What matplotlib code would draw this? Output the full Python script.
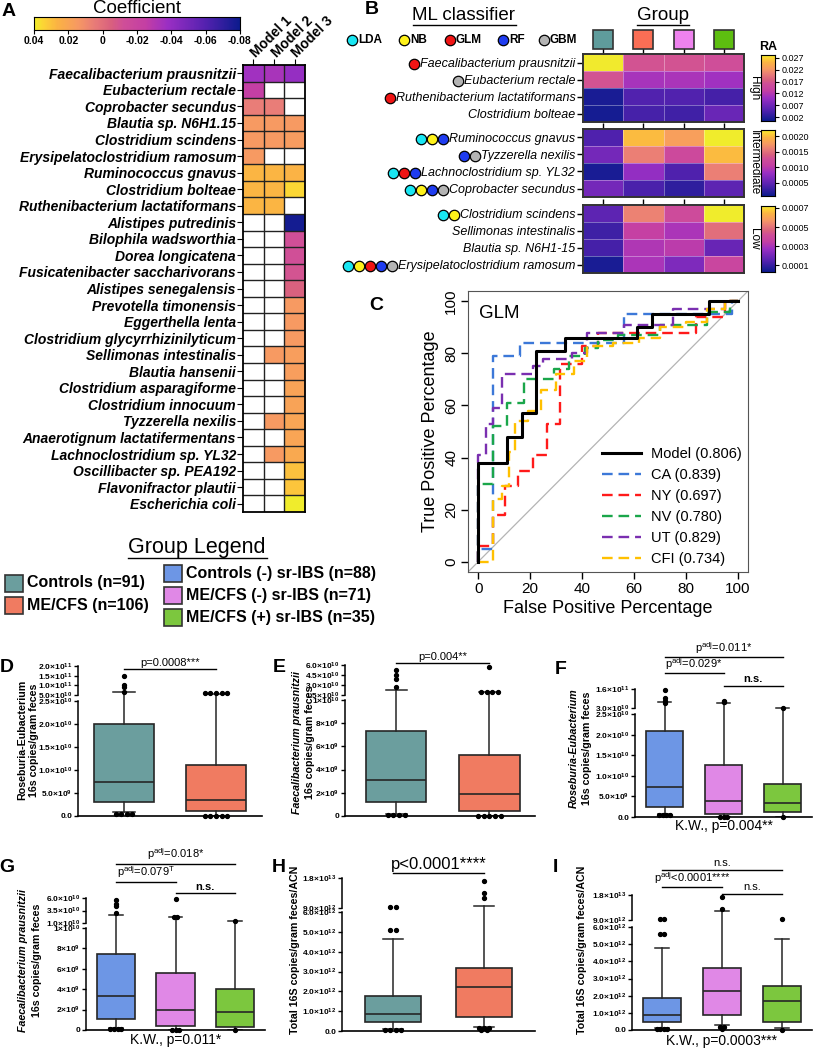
import numpy as np
import matplotlib
matplotlib.use('Agg')
import matplotlib.pyplot as plt
from matplotlib.colors import LinearSegmentedColormap, Normalize
from matplotlib.patches import Rectangle
from matplotlib.transforms import blended_transform_factory

plt.rcParams['font.family'] = ['Liberation Sans', 'DejaVu Sans']
plt.rcParams['mathtext.default'] = 'regular'

W, H = 816, 1050
nan = np.nan

# ---------------- panel A: regression coefficients
a_species = ['Faecalibacterium prausnitzii', 'Eubacterium rectale', 'Coprobacter secundus',
             'Blautia sp. N6H1.15', 'Clostridium scindens', 'Erysipelatoclostridium ramosum',
             'Ruminococcus gnavus', 'Clostridium bolteae', 'Ruthenibacterium lactatiformans',
             'Alistipes putredinis', 'Bilophila wadsworthia', 'Dorea longicatena',
             'Fusicatenibacter saccharivorans', 'Alistipes senegalensis', 'Prevotella timonensis',
             'Eggerthella lenta', 'Clostridium glycyrrhizinilyticum', 'Sellimonas intestinalis',
             'Blautia hansenii', 'Clostridium asparagiforme', 'Clostridium innocuum',
             'Tyzzerella nexilis', 'Anaerotignum lactatifermentans', 'Lachnoclostridium sp. YL32',
             'Oscillibacter sp. PEA192', 'Flavonifractor plautii', 'Escherichia coli']
a_models = ['Model 1', 'Model 2', 'Model 3']
a_model1 = [-0.036, -0.025, 0.005, 0.015, 0.015, 0.015, 0.027, 0.027, 0.027,
            nan, nan, nan, nan, nan, nan, nan, nan, nan, nan, nan, nan, nan, nan, nan, nan, nan, nan]
a_model2 = [-0.034, nan, 0.005, 0.015, 0.015, nan, 0.027, 0.027, 0.027,
            nan, nan, nan, nan, nan, nan, nan, nan, 0.015, nan, nan, nan, 0.015, nan, 0.015, nan, nan, nan]
a_model3 = [-0.040, nan, nan, 0.015, 0.016, nan, 0.026, 0.035, nan,
            -0.078, -0.012, -0.012, -0.010, -0.005, 0.015, 0.015, 0.015, 0.017,
            0.017, 0.019, 0.019, 0.020, 0.020, 0.022, 0.030, 0.031, 0.040]
a_cbar_ticks = [0.04, 0.02, 0, -0.02, -0.04, -0.06, -0.08]
a_cbar_labels = ['0.04', '0.02', '0', '-0.02', '-0.04', '-0.06', '-0.08']

# ---------------- panel B: relative abundance by group
b_high_species = ['Faecalibacterium prausnitzii', 'Eubacterium rectale',
                  'Ruthenibacterium lactatiformans', 'Clostridium bolteae']
b_high_vals = [[0.0280, 0.0165, 0.0165, 0.0160],
               [0.0165, 0.0110, 0.0112, 0.0105],
               [0.0012, 0.0048, 0.0048, 0.0040],
               [0.0010, 0.0042, 0.0037, 0.0065]]
b_mid_species = ['Ruminococcus gnavus', 'Tyzzerella nexilis', 'Lachnoclostridium sp. YL32',
                 'Coprobacter secundus']
b_mid_vals = [[0.00040, 0.00200, 0.00180, 0.00220],
              [0.00060, 0.00160, 0.00120, 0.00200],
              [0.00013, 0.00077, 0.00040, 0.00160],
              [0.00060, 0.00037, 0.00024, 0.00047]]
b_low_species = ['Clostridium scindens', 'Sellimonas intestinalis', 'Blautia sp. N6H1-15',
                 'Erysipelatoclostridium ramosum']
b_low_vals = [[0.00016, 0.00053, 0.00040, 0.00072],
              [0.00011, 0.00035, 0.00030, 0.00049],
              [0.00012, 0.00031, 0.00033, 0.00018],
              [0.00005, 0.00030, 0.00022, 0.00038]]
b_high_clf = [['GLM'], ['GBM'], ['GLM'], []]
b_mid_clf = [['LDA', 'NB', 'RF'], ['RF', 'GBM'], ['LDA', 'GLM', 'RF'], ['LDA', 'NB', 'RF', 'GBM']]
b_low_clf = [['LDA', 'NB'], [], [], ['LDA', 'NB', 'GLM', 'RF', 'GBM']]
b_high_ticks = [0.027, 0.022, 0.017, 0.012, 0.007, 0.002]
b_mid_ticks = [0.0020, 0.0015, 0.0010, 0.0005]
b_low_ticks = [0.0007, 0.0005, 0.0003, 0.0001]
classifiers = ['LDA', 'NB', 'GLM', 'RF', 'GBM']
clf_colors = {'LDA': '#19e6f2', 'NB': '#fff21a', 'GLM': '#f01414', 'RF': '#1f3cf0', 'GBM': '#b4b4b4'}

# ---------------- panel C: ROC curves (GLM)
roc_names = ['Model', 'CA', 'NY', 'NV', 'UT', 'CFI']
roc_auc = [0.806, 0.839, 0.697, 0.780, 0.829, 0.734]
model_fpr = [0, 11, 16.7, 22.4, 33.6, 61, 67, 89, 100]
model_tpr = [0, 38, 48, 57, 81, 86, 90, 95, 100]
ca_fpr = [0, 5.5, 16, 56, 98, 100]
ca_tpr = [0, 5, 79, 84, 95, 100]
ny_fpr = [0, 5.5, 10.3, 15.4, 21, 26.5, 31.4, 40, 46, 84, 95, 100]
ny_tpr = [0, 6, 18, 29, 35, 41, 53, 76, 83, 88, 94, 100]
nv_fpr = [0, 5.5, 11, 17.5, 29, 35, 41, 46, 54, 70, 88, 97, 100]
nv_tpr = [0, 30, 52, 61, 70, 74, 79, 82, 85, 87, 91, 96, 100]
ut_fpr = [0, 3, 5.5, 9, 21, 25, 36, 42, 56, 75, 95, 100]
ut_tpr = [0, 41, 53, 59, 72, 75, 78, 80, 88, 91, 97, 100]
cfi_fpr = [0, 5.8, 9, 12, 14, 19, 24, 30, 37, 42, 52, 62, 70, 80, 88, 95, 100]
cfi_tpr = [0, 0, 24, 29, 42, 54, 58, 66, 72, 77, 83, 84, 86, 90, 92, 97, 100]
roc_colors = ['black', '#3c78d8', '#ff1a1a', '#1aa64a', '#7a2fb0', '#ffc000']

# ---------------- group colours
grp2_names = ['Controls (n=91)', 'ME/CFS (n=106)']
grp3_names = ['Controls (-) sr-IBS (n=88)', 'ME/CFS (-) sr-IBS (n=71)', 'ME/CFS (+) sr-IBS (n=35)']
grp2_colors = ['#6b9e9e', '#f07b61']
grp3_colors = ['#6d96e5', '#e088e6', '#7cc73e']
b_group_colors = ['#5f9c9c', '#fa6e55', '#ee82ee', '#5dbe10']

# ---------------- panels D-I: box summaries
d_q1, d_med, d_q3 = [3.0e9, 1.0e9], [7.5e9, 3.5e9], [2.0e10, 1.1e10]
d_lo, d_hi = [0.8e9, 0.0], [6.5e10, 5.5e10]
d_fl = [[5e8, 5e8, 5e8, 5e8, 6.8e10, 9.0e10, 1.0e11, 1.5e11], [0, 0, 0, 0, 0, 6e10, 6e10, 6e10, 6e10, 6e10]]
d_ticks = [0, 5e9, 1e10, 1.5e10, 2e10, 2.5e10, 5e10, 1e11, 1.5e11, 2e11]
d_labels = ['0.0', '5.0×10$^{9}$', '1.0×10$^{10}$', '1.5×10$^{10}$', '2.0×10$^{10}$', '2.5×10$^{10}$',
            '5.0×10$^{10}$', '1.0×10$^{11}$', '1.5×10$^{11}$', '2.0×10$^{11}$']

e_q1, e_med, e_q3 = [1.2e9, 0.4e9], [3.1e9, 1.9e9], [7.3e9, 5.3e9]
e_lo, e_hi = [0.2e9, 0.0], [2.3e10, 1.9e10]
e_fl = [[1e8, 1e8, 1e8, 1e8, 2.7e10, 3.9e10, 4.5e10, 5.25e10], [0, 0, 0, 0, 0, 1.95e10, 1.95e10, 1.95e10, 1.95e10, 5.7e10]]
e_ticks = [0, 2e9, 4e9, 6e9, 8e9, 1e10, 1.5e10, 3e10, 4.5e10, 6e10]
e_labels = ['0', '2×10$^{9}$', '4×10$^{9}$', '6×10$^{9}$', '8×10$^{9}$', '1×10$^{10}$',
            '1.5×10$^{10}$', '3.0×10$^{10}$', '4.5×10$^{10}$', '6.0×10$^{10}$']

f_q1, f_med, f_q3 = [2.5e9, 0.7e9, 1.2e9], [7.3e9, 3.9e9, 3.4e9], [2.08e10, 1.26e10, 7.9e9]
f_lo, f_hi = [0.8e9, 0.0, 0.0], [7.1e10, 6.4e10, 3.1e10]
f_fl = [[5e8, 5e8, 5e8, 5e8, 6.5e10, 8.0e10, 1.0e11, 1.5e11], [0, 0, 0, 7.0e10, 7.3e10, 7.6e10], [0, 3.1e10]]
f_ticks = [0, 5e9, 1e10, 1.5e10, 2e10, 2.5e10, 3e10, 1.6e11]
f_labels = ['0.0', '5.0×10$^{9}$', '1.0×10$^{10}$', '1.5×10$^{10}$', '2.0×10$^{10}$', '2.5×10$^{10}$',
            '3.0×10$^{10}$', '1.6×10$^{11}$']

g_q1, g_med, g_q3 = [1.1e9, 0.4e9, 0.3e9], [3.3e9, 2.0e9, 1.8e9], [7.5e9, 5.6e9, 4.0e9]
g_lo, g_hi = [0.2e9, 0.0, 0.0], [2.6e10, 2.2e10, 1.4e10]
g_fl = [[1e8, 1e8, 1e8, 1e8, 3.0e10, 4.4e10, 4.8e10, 5.6e10], [0, 0, 0, 2.2e10, 2.2e10, 5.8e10], [0, 1.4e10]]
g_ticks = [0, 2e9, 4e9, 6e9, 8e9, 1e10, 1.0001e10, 3.5e10, 6e10]
g_labels = ['0', '2×10$^{9}$', '4×10$^{9}$', '6×10$^{9}$', '8×10$^{9}$', '1×10$^{10}$',
            '1.0×10$^{10}$', '3.5×10$^{10}$', '6.0×10$^{10}$']

h_q1, h_med, h_q3 = [0.45e12, 0.7e12], [0.88e12, 2.2e12], [1.75e12, 3.2e12]
h_lo, h_hi = [0.1e12, 0.2e12], [4.65e12, 9.7e12]
h_fl = [[5e10, 5e10, 5e10, 5e10, 5.1e12, 5.1e12, 9.2e12, 9.2e12],
        [5e10, 5e10, 1.5e11, 1.5e11, 1.5e11, 1.2e13, 1.35e13, 1.7e13]]
h_ticks = [0, 1e12, 2e12, 3e12, 4e12, 5e12, 6e12, 9e12, 1.8e13]
h_labels = ['0.0', '1.0×10$^{12}$', '2.0×10$^{12}$', '3.0×10$^{12}$', '4.0×10$^{12}$', '5.0×10$^{12}$',
            '6.0×10$^{12}$', '9.0×10$^{12}$', '1.8×10$^{13}$']

i_q1, i_med, i_q3 = [0.45e12, 0.85e12, 0.45e12], [0.9e12, 2.3e12, 1.7e12], [1.85e12, 3.6e12, 2.55e12]
i_lo, i_hi = [0.1e12, 0.29e12, 0.12e12], [4.75e12, 1.22e13, 5.3e12]
i_fl = [[5e10, 5e10, 5e10, 5e10, 5.6e12, 5.6e12, 9.5e12, 9.5e12],
        [5e10, 1.5e11, 1.5e11, 1.3e13, 1.73e13], [0, 9.4e12]]
i_ticks = h_ticks
i_labels = h_labels

# ================= drawing
fig = plt.figure(figsize=(W / 100, H / 100), dpi=100)


def px_axes(x0, y0, x1, y1, **kw):
    return fig.add_axes([x0 / W, 1 - y1 / H, (x1 - x0) / W, (y1 - y0) / H], **kw)


def ftext(x, y, s, **kw):
    kw.setdefault('ha', 'center')
    kw.setdefault('va', 'center')
    return fig.text(x / W, 1 - y / H, s, **kw)


cmap = LinearSegmentedColormap.from_list('coef', [
    (0.0, '#0d1b8e'), (0.167, '#5522b0'), (0.35, '#9b2fc4'), (0.458, '#c43fa4'),
    (0.567, '#d04f98'), (0.625, '#d9607f'), (0.708, '#e97c78'), (0.792, '#f79a62'),
    (0.892, '#fbb443'), (0.958, '#fdd535'), (1.0, '#f0ec2c')])

# ---- A
ftext(9, 12, 'A', fontsize=14, fontweight='bold')
normA = Normalize(-0.08, 0.04)
cax = px_axes(34, 17, 240, 30)
grad = np.linspace(0.04, -0.08, 300)[None, :]
cax.imshow(grad, extent=[0.04, -0.08, 0, 1], aspect='auto', cmap=cmap, norm=normA)
cax.set_xlim(0.04, -0.08)
cax.set_yticks([])
cax.set_xticks(a_cbar_ticks, a_cbar_labels, fontsize=7.5, fontweight='bold')
cax.tick_params(axis='x', length=3, pad=1)
cax.set_title('Coefficient', fontsize=13.5, pad=1)

axA = px_axes(243, 65, 305, 512)
vals = np.ma.masked_invalid(np.column_stack([a_model1, a_model2, a_model3]))
axA.pcolormesh(np.arange(4), np.arange(len(a_species) + 1), vals, cmap=cmap, norm=normA)
axA.set_xlim(0, 3)
axA.set_ylim(len(a_species), 0)
for k in range(1, 3):
    axA.axvline(k, color='#222222', lw=1)
for k in range(1, len(a_species)):
    axA.axhline(k, color='#222222', lw=1)
for sp in axA.spines.values():
    sp.set_linewidth(1.3)
axA.set_yticks(np.arange(len(a_species)) + 0.5, a_species, fontsize=10, fontweight='bold', fontstyle='italic')
axA.xaxis.tick_top()
axA.set_xticks(np.arange(3) + 0.5, a_models, fontsize=10, fontweight='bold', rotation=45,
               ha='left', va='center', rotation_mode='anchor')
axA.tick_params(axis='y', length=4, pad=1)
axA.tick_params(axis='x', length=4, pad=3)

# ---- B
ftext(372, 10, 'B', fontsize=14, fontweight='bold')
b_blocks = [(b_high_species, b_high_vals, (0.0004, 0.0282), b_high_ticks, '%.3f', 54, 122, 'High', b_high_clf),
            (b_mid_species, b_mid_vals, (0.00007, 0.0022), b_mid_ticks, '%.4f', 129, 197, 'Intermediate', b_mid_clf),
            (b_low_species, b_low_vals, (0.00003, 0.00072), b_low_ticks, '%.4f', 205, 273, 'Low', b_low_clf)]
b_axes = []
for names, v, (lo, hi), ticks, fmt, y0, y1, tag, clf in b_blocks:
    ax = px_axes(583, y0, 744, y1)
    nb = Normalize(lo, hi)
    ax.pcolormesh(np.arange(5), np.arange(5), np.array(v), cmap=cmap, norm=nb,
                  edgecolors=(1, 1, 1, 0.35), linewidth=0.6)
    ax.set_xlim(0, 4)
    ax.set_ylim(4, 0)
    ax.set_yticks(np.arange(4) + 0.5, names, fontsize=9, fontstyle='italic')
    ax.xaxis.tick_top()
    ax.set_xticks(np.arange(4) + 0.5, [])
    ax.tick_params(axis='both', length=4.5, width=1, pad=1)
    for sp in ax.spines.values():
        sp.set_linewidth(1.4)
        sp.set_color('#333333')
    ftext(754, (y0 + y1) / 2, tag, fontsize=8.5, rotation=270)
    cb = px_axes(761, y0 + 1, 775, y1 - 1)
    cb.imshow(np.linspace(hi, lo, 200)[:, None], extent=[0, 1, lo, hi], aspect='auto', cmap=cmap, norm=nb)
    cb.set_ylim(lo, hi)
    cb.set_xticks([])
    cb.yaxis.tick_right()
    cb.set_yticks(ticks, [fmt % t for t in ticks], fontsize=6.5)
    cb.tick_params(axis='y', length=3, pad=1.5)
    b_axes.append((ax, clf))
ftext(768, 47, 'RA', fontsize=9, fontweight='bold')

# ---- overlay for annotations (pixel coordinates)
ov = fig.add_axes([0, 0, 1, 1], zorder=10)
ov.set_xlim(0, W)
ov.set_ylim(H, 0)
ov.axis('off')

ftext(464, 16, 'ML classifier', fontsize=13.5)
ov.plot([413, 516], [25, 25], color='k', lw=1)
ftext(663, 16, 'Group', fontsize=13.5)
ov.plot([637, 689], [25, 25], color='k', lw=1)
for cx, name in zip([352, 404, 450, 503, 544], classifiers):
    ov.plot(cx, 40, 'o', ms=7.5, mfc=clf_colors[name], mec='k', mew=0.9)
    ov.text(cx + 6, 40, name, fontsize=8.5, fontweight='bold', ha='left', va='center')
col_w = (744 - 583) / 4
for k, c in enumerate(b_group_colors):
    xc = 583 + col_w * (k + 0.5)
    ov.add_patch(Rectangle((xc - 10, 30), 20, 19, facecolor=c, edgecolor='#333333', lw=1.2))

# ---- C
ftext(376, 305, 'C', fontsize=14, fontweight='bold')
axC = px_axes(468, 291, 748, 572)
axC.plot([0, 1], [0, 1], transform=axC.transAxes, color='#b4b4b4', lw=0.9)
roc_fprs = [model_fpr, ca_fpr, ny_fpr, nv_fpr, ut_fpr, cfi_fpr]
roc_tprs = [model_tpr, ca_tpr, ny_tpr, nv_tpr, ut_tpr, cfi_tpr]
for name, auc, f, t, c in zip(roc_names, roc_auc, roc_fprs, roc_tprs, roc_colors):
    if name == 'Model':
        axC.plot(f, t, drawstyle='steps-pre', color=c, lw=2.2, label=f'{name} ({auc:.3f})', zorder=3)
    else:
        axC.plot(f, t, drawstyle='steps-pre', color=c, lw=1.7, dashes=(4.5, 2.5), label=f'{name} ({auc:.3f})')
axC.set_xlim(-4, 104)
axC.set_ylim(-4, 104)
axC.set_xticks(range(0, 101, 20))
axC.set_yticks(range(0, 101, 20))
axC.tick_params(labelsize=11, length=5, width=1, pad=2)
for lbl in axC.get_yticklabels():
    lbl.set_rotation(90)
    lbl.set_va('center')
for sp in axC.spines.values():
    sp.set_color('#555555')
axC.set_xlabel('False Positive Percentage', fontsize=13, labelpad=3)
axC.set_ylabel('True Positive Percentage', fontsize=13, labelpad=4)
axC.text(0.04, 0.95, 'GLM', transform=axC.transAxes, fontsize=13.5, va='top')
axC.legend(loc='lower right', frameon=False, fontsize=10.5, handlelength=2.7, labelspacing=0.48,
           borderaxespad=0.0, handletextpad=0.7)

# ---- group legend
ftext(197, 548, 'Group Legend', fontsize=15.5)
ov.plot([128, 267], [558, 558], color='k', lw=1)
for k, (name, c) in enumerate(zip(grp2_names, grp2_colors)):
    y = 583 + 22.5 * k
    ov.add_patch(Rectangle((5, y - 8.5), 18, 17, facecolor=c, edgecolor='#333333', lw=1.2))
    ov.text(27, y, name, fontsize=11.5, fontweight='bold', ha='left', va='center')
for k, (name, c) in enumerate(zip(grp3_names, grp3_colors)):
    y = 573.5 + 22 * k
    ov.add_patch(Rectangle((164, y - 8.5), 18, 17, facecolor=c, edgecolor='#333333', lw=1.2))
    ov.text(186, y, name, fontsize=11.5, fontweight='bold', ha='left', va='center')


# ---- box panels
def spread(vals, x, step):
    xs = np.full(len(vals), float(x))
    groups = {}
    for i, v in enumerate(vals):
        groups.setdefault(v, []).append(i)
    for idx in groups.values():
        n = len(idx)
        xs[idx] = x + (np.arange(n) - (n - 1) / 2) * step
    return xs


def box_panel(px, brk, ticks, labels, xlim, width, q1, med, q3, lo, hi, fliers, colors):
    x0, x1, yz, yb1, yb2, yt = px
    b1, b2, top = brk
    ax = px_axes(x0, yt, x1, yz)
    s1 = (yz - yb1) / b1
    s2 = (yb2 - yt) / (top - b2)
    xp = [-top, 0, b1, b2, top, 2 * top]
    fp = [-top * s1, 0, yz - yb1, yz - yb2, yz - yt, yz - yt + top * s2]
    ax.set_yscale('function', functions=(lambda v: np.interp(v, xp, fp), lambda v: np.interp(v, fp, xp)))
    ax.set_ylim(0, top)
    ax.set_xlim(*xlim)
    pos = np.arange(1, len(q1) + 1)
    stats = [dict(q1=a, med=m, q3=b, whislo=l, whishi=h, fliers=[])
             for a, m, b, l, h in zip(q1, med, q3, lo, hi)]
    bp = ax.bxp(stats, positions=pos, widths=width, patch_artist=True, showfliers=False,
                capwidths=width * 0.35,
                boxprops=dict(edgecolor='#262626', linewidth=1.2),
                medianprops=dict(color='#262626', linewidth=1.2),
                whiskerprops=dict(color='#262626', linewidth=1.1),
                capprops=dict(color='#262626', linewidth=1.1))
    for patch, c in zip(bp['boxes'], colors):
        patch.set_facecolor(c)
    for p, fl in zip(pos, fliers):
        ax.plot(spread(fl, p, 0.06), fl, 'o', color='k', ms=2.8, clip_on=False, zorder=5)
    for s in ['top', 'right', 'left']:
        ax.spines[s].set_visible(False)
    ax.spines['bottom'].set_linewidth(1.2)
    tr = blended_transform_factory(ax.transAxes, ax.transData)
    ax.plot([0, 0], [0, b1], transform=tr, color='k', lw=1.1, clip_on=False)
    ax.plot([0, 0], [b2, top], transform=tr, color='k', lw=1.1, clip_on=False)
    ax.set_xticks([])
    ax.set_yticks(ticks, labels, fontsize=6, fontweight='bold')
    ax.tick_params(axis='y', length=3, width=1, pad=1)
    return ax


def sig(ax, xa, xb, y, label, size=8, weight='normal'):
    tr = blended_transform_factory(ax.transData, ov.transData)
    ax.plot([xa, xb], [y, y], transform=tr, color='k', lw=1, clip_on=False)
    ax.text((xa + xb) / 2, y - 1.5, label, transform=tr, ha='center', va='bottom', fontsize=size,
            fontweight=weight, clip_on=False)


def kw_text(ax, y, label):
    tr = blended_transform_factory(ax.transAxes, ov.transData)
    ax.text(0.5, y, label, transform=tr, ha='center', va='center', fontsize=10, clip_on=False)


axD = box_panel((78, 262, 816, 701, 695, 666), (2.5e10, 5e10, 2e11), d_ticks, d_labels, (0.5, 2.5), 0.66,
                d_q1, d_med, d_q3, d_lo, d_hi, d_fl, grp2_colors)
axE = box_panel((345, 535, 816, 700, 695, 665), (1e10, 1.5e10, 6e10), e_ticks, e_labels, (0.45, 2.49), 0.65,
                e_q1, e_med, e_q3, e_lo, e_hi, e_fl, grp2_colors)
axF = box_panel((635, 812, 817, 714, 708, 689), (2.5e10, 3e10, 1.6e11), f_ticks, f_labels, (0.5, 3.5), 0.64,
                f_q1, f_med, f_q3, f_lo, f_hi, f_fl, grp3_colors)
axG = box_panel((86, 265, 1030, 928, 923, 898), (1e10, 1.0001e10, 6e10), g_ticks, g_labels, (0.5, 3.5), 0.64,
                g_q1, g_med, g_q3, g_lo, g_hi, g_fl, grp3_colors)
axH = box_panel((342, 535, 1031, 912, 908, 878), (6e12, 9e12, 1.8e13), h_ticks, h_labels, (0.44, 2.56), 0.62,
                h_q1, h_med, h_q3, h_lo, h_hi, h_fl, grp2_colors)
axI = box_panel((632, 812, 1030, 927, 920, 895), (6e12, 9e12, 1.8e13), i_ticks, i_labels, (0.5, 3.5), 0.64,
                i_q1, i_med, i_q3, i_lo, i_hi, i_fl, grp3_colors)

for lab, x, y in [('D', 7, 668), ('E', 279, 668), ('F', 561, 670), ('G', 7, 867), ('H', 279, 867), ('I', 555, 867)]:
    ftext(x, y, lab, fontsize=14, fontweight='bold')

ftext(22, 740, 'Roseburia-Eubacterium', fontsize=7.7, fontweight='bold', rotation=90)
ftext(34, 740, '16s copies/gram feces', fontsize=7.7, fontweight='bold', rotation=90)
ftext(297, 742, 'Faecalibacterium prausnitzii', fontsize=7.7, fontweight='bold', fontstyle='italic', rotation=90)
ftext(310, 742, '16s copies/gram feces', fontsize=7.7, fontweight='bold', rotation=90)
ftext(574, 748, 'Roseburia-Eubacterium', fontsize=7.7, fontweight='bold', fontstyle='italic', rotation=90)
ftext(587, 748, '16s copies/gram feces', fontsize=7.7, fontweight='bold', rotation=90)
ftext(23, 960, 'Faecalibacterium prausnitzii', fontsize=7.7, fontweight='bold', fontstyle='italic', rotation=90)
ftext(37, 960, '16s copies/gram feces', fontsize=7.7, fontweight='bold', rotation=90)
ftext(295, 950, 'Total 16S copies/gram feces/ACN', fontsize=7.7, fontweight='bold', rotation=90)
ftext(582, 950, 'Total 16S copies/gram feces/ACN', fontsize=7.7, fontweight='bold', rotation=90)

sig(axD, 1, 2, 669, 'p=0.0008***', size=8)
sig(axE, 1, 2, 663, 'p=0.004**', size=8)
sig(axF, 1, 3, 657, 'p$^{adj}$=0.011*')
sig(axF, 1, 2, 673, 'p$^{adj}$=0.029*')
sig(axF, 2, 3, 686, 'n.s.', weight='bold')
kw_text(axF, 826, 'K.W., p=0.004**')
sig(axG, 1, 3, 864, 'p$^{adj}$=0.018*')
sig(axG, 1, 2, 882, 'p$^{adj}$=0.079$^{T}$')
sig(axG, 2, 3, 893, 'n.s.', weight='bold')
kw_text(axG, 1040, 'K.W., p=0.011*')
sig(axH, 1, 2, 873, 'p<0.0001****', size=12)
sig(axI, 1, 3, 870, 'n.s.')
sig(axI, 1, 2, 887, 'p$^{adj}$<0.0001****')
sig(axI, 2, 3, 894, 'n.s.')
kw_text(axI, 1041, 'K.W., p=0.0003***')

# ---- classifier circles next to B labels
fig.canvas.draw()
renderer = fig.canvas.get_renderer()
for ax, clf in b_axes:
    for lbl, marks in zip(ax.get_yticklabels(), clf):
        bb = lbl.get_window_extent(renderer)
        yc = H - (bb.y0 + bb.y1) / 2
        for k, m in enumerate(reversed(marks)):
            ov.plot(bb.x0 - 6 - 11 * k, yc, 'o', ms=7.5, mfc=clf_colors[m], mec='k', mew=0.9, clip_on=False)

fig.savefig('out.png', dpi=100)
